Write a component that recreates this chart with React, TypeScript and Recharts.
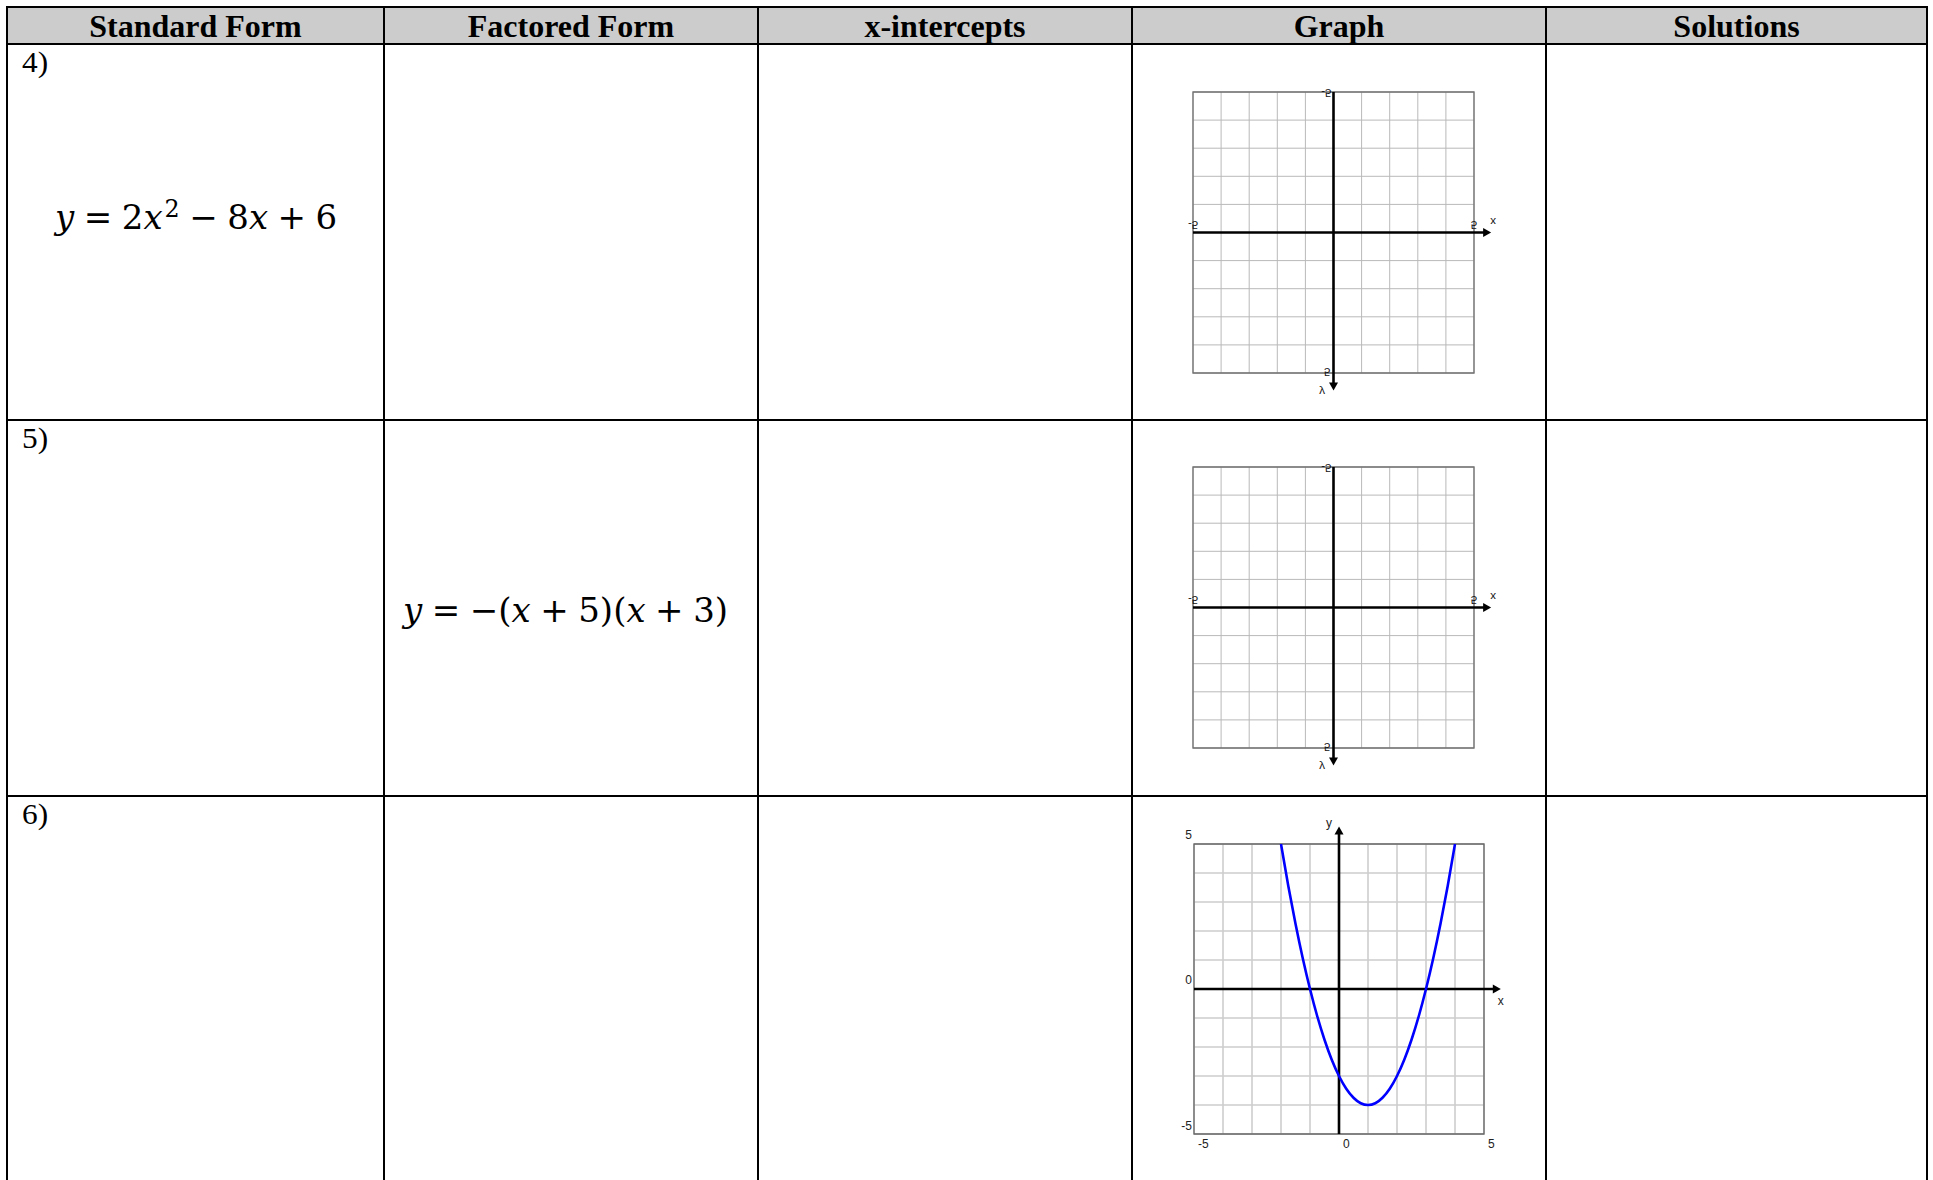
import React from 'react';
import {
  LineChart,
  Line,
  XAxis,
  YAxis,
  CartesianGrid,
  ReferenceLine,
  ReferenceDot,
  ReferenceArea,
} from 'recharts';

const headers = ['Standard Form', 'Factored Form', 'x-intercepts', 'Graph', 'Solutions'];
const rowNumbers = ['4)', '5)', '6)'];
const gridTicks = [-5, -4, -3, -2, -1, 0, 1, 2, 3, 4, 5];
const edgeLabels = ['-5', '0', '5'];

// row 6 parabola
const parabolaX = [-2, -1.75, -1.5, -1.25, -1, -0.75, -0.5, -0.25, 0, 0.25, 0.5, 0.75, 1, 1.25, 1.5, 1.75, 2, 2.25, 2.5, 2.75, 3, 3.25, 3.5, 3.75, 4];
const parabolaY = [5, 3.56, 2.25, 1.06, 0, -0.94, -1.75, -2.44, -3, -3.44, -3.75, -3.94, -4, -3.94, -3.75, -3.44, -3, -2.44, -1.75, -0.94, 0, 1.06, 2.25, 3.56, 5];

const COLS = [7, 384, 758, 1132, 1546, 1927];
const ROWS = [7, 44, 420, 796];
const M = 30;

const serif = '"Liberation Serif", "Times New Roman", serif';
const mathFont = '"DejaVu Serif", serif';
const sans = '"Liberation Sans", Arial, sans-serif';

const arrow = (dir: 'right' | 'down' | 'up') => (p: any) => {
  const { cx, cy } = p;
  const pts =
    dir === 'right'
      ? `${cx},${cy} ${cx - 8},${cy - 4.5} ${cx - 8},${cy + 4.5}`
      : dir === 'down'
        ? `${cx},${cy} ${cx - 4.5},${cy - 8} ${cx + 4.5},${cy - 8}`
        : `${cx},${cy} ${cx - 4.5},${cy + 8} ${cx + 4.5},${cy + 8}`;
  return <polygon points={pts} fill="#000" />;
};

const label =
  (text: string, dx: number, dy: number, anchor: string, flip: boolean, size: number) =>
  (p: any) =>
    flip ? (
      <text
        transform={`translate(${p.cx + dx},${p.cy + dy}) scale(1,-1)`}
        textAnchor={anchor}
        dominantBaseline="central"
        fontSize={size}
        fontFamily={sans}
        fill="#111"
      >
        {text}
      </text>
    ) : (
      <text x={p.cx + dx} y={p.cy + dy} textAnchor={anchor} fontSize={size} fontFamily={sans} fill="#222">
        {text}
      </text>
    );

const FlippedGrid = ({ left, top, size }: { left: number; top: number; size: number }) => (
  <div style={{ position: 'absolute', left: left - M, top: top - M }}>
    <LineChart
      width={size + 2 * M}
      height={size + 2 * M}
      data={gridTicks.map((x) => ({ x }))}
      margin={{ top: M, right: M, bottom: M, left: M }}
    >
      <XAxis dataKey="x" type="number" domain={[-5, 5]} ticks={gridTicks} hide allowDataOverflow />
      <YAxis type="number" domain={[-5, 5]} ticks={gridTicks} hide allowDataOverflow />
      <CartesianGrid stroke="#b9b9b9" strokeWidth={1} />
      <ReferenceArea x1={-5} x2={5} y1={-5} y2={5} fill="none" stroke="#707070" strokeWidth={1.3} />
      <ReferenceLine segment={[{ x: -5, y: 0 }, { x: 5.45, y: 0 }]} stroke="#000" strokeWidth={2.6} ifOverflow="visible" />
      <ReferenceLine segment={[{ x: 0, y: 5 }, { x: 0, y: -5.45 }]} stroke="#000" strokeWidth={2.6} ifOverflow="visible" />
      <ReferenceDot x={5.61} y={0} ifOverflow="visible" shape={arrow('right')} />
      <ReferenceDot x={0} y={-5.62} ifOverflow="visible" shape={arrow('down')} />
      <ReferenceDot x={0} y={5} ifOverflow="visible" shape={label(edgeLabels[0], -2, 1, 'end', true, 11.5)} />
      <ReferenceDot x={0} y={-5} ifOverflow="visible" shape={label(edgeLabels[2], -3, -1, 'end', true, 11.5)} />
      <ReferenceDot x={-5} y={0} ifOverflow="visible" shape={label(edgeLabels[0], 0, -8, 'middle', true, 11.5)} />
      <ReferenceDot x={5} y={0} ifOverflow="visible" shape={label(edgeLabels[2], 0, -8, 'middle', true, 11.5)} />
      <ReferenceDot x={5.61} y={0} ifOverflow="visible" shape={label('x', 2, -11, 'middle', true, 11.5)} />
      <ReferenceDot x={0} y={-5.62} ifOverflow="visible" shape={label('y', -11.5, 2, 'middle', true, 11.5)} />
    </LineChart>
  </div>
);

const ParabolaGrid = ({ left, top, size }: { left: number; top: number; size: number }) => (
  <div style={{ position: 'absolute', left: left - M, top: top - M }}>
    <LineChart
      width={size + 2 * M}
      height={size + 2 * M}
      data={parabolaX.map((x, i) => ({ x, y: parabolaY[i] }))}
      margin={{ top: M, right: M, bottom: M, left: M }}
    >
      <XAxis dataKey="x" type="number" domain={[-5, 5]} ticks={gridTicks} hide allowDataOverflow />
      <YAxis type="number" domain={[-5, 5]} ticks={gridTicks} hide allowDataOverflow />
      <CartesianGrid stroke="#cdcdcd" strokeWidth={1.6} />
      <ReferenceArea x1={-5} x2={5} y1={-5} y2={5} fill="none" stroke="#666" strokeWidth={1.3} />
      <ReferenceLine segment={[{ x: -5, y: 0 }, { x: 5.45, y: 0 }]} stroke="#000" strokeWidth={2.6} ifOverflow="visible" />
      <ReferenceLine segment={[{ x: 0, y: -5 }, { x: 0, y: 5.45 }]} stroke="#000" strokeWidth={2.6} ifOverflow="visible" />
      <ReferenceDot x={5.58} y={0} ifOverflow="visible" shape={arrow('right')} />
      <ReferenceDot x={0} y={5.6} ifOverflow="visible" shape={arrow('up')} />
      <ReferenceDot x={-5} y={5} ifOverflow="visible" shape={label(edgeLabels[2], -2, -5, 'end', false, 12)} />
      <ReferenceDot x={-5} y={0} ifOverflow="visible" shape={label(edgeLabels[1], -2, -5, 'end', false, 12)} />
      <ReferenceDot x={-5} y={-5} ifOverflow="visible" shape={label(edgeLabels[0], -2, -4, 'end', false, 12)} />
      <ReferenceDot x={-5} y={-5} ifOverflow="visible" shape={label(edgeLabels[0], 4, 14, 'start', false, 12)} />
      <ReferenceDot x={0} y={-5} ifOverflow="visible" shape={label(edgeLabels[1], 4, 14, 'start', false, 12)} />
      <ReferenceDot x={5} y={-5} ifOverflow="visible" shape={label(edgeLabels[2], 4, 14, 'start', false, 12)} />
      <ReferenceDot x={0} y={5.6} ifOverflow="visible" shape={label('y', -7, 0, 'end', false, 12)} />
      <ReferenceDot x={5.58} y={0} ifOverflow="visible" shape={label('x', 0, 16, 'middle', false, 12)} />
      <Line dataKey="y" type="monotone" stroke="#0000ff" strokeWidth={2.6} dot={false} isAnimationActive={false} />
    </LineChart>
  </div>
);

const op = (s: string) => <span style={{ margin: '0 0.28em' }}>{s}</span>;
const v = (s: string) => <span style={{ fontStyle: 'italic' }}>{s}</span>;

export default function App() {
  return (
    <div
      style={{
        position: 'absolute',
        left: 0,
        top: 0,
        width: 1933,
        height: 1180,
        overflow: 'hidden',
        background: '#fff',
        fontFamily: serif,
      }}
    >
      <div
        style={{
          position: 'absolute',
          left: COLS[0],
          top: ROWS[0],
          width: COLS[5] - COLS[0],
          height: ROWS[1] - ROWS[0],
          background: '#cccccc',
        }}
      />
      {headers.map((h, i) => (
        <div
          key={h}
          style={{
            position: 'absolute',
            left: COLS[i],
            width: COLS[i + 1] - COLS[i],
            top: ROWS[0],
            height: ROWS[1] - ROWS[0],
            lineHeight: `${ROWS[1] - ROWS[0] + 1}px`,
            textAlign: 'center',
            fontWeight: 'bold',
            fontSize: 32,
          }}
        >
          {h}
        </div>
      ))}
      {rowNumbers.map((r, i) => (
        <div
          key={r}
          style={{
            position: 'absolute',
            left: 22,
            top: ROWS[i + 1] + 4,
            fontSize: 29,
            lineHeight: '29px',
            transform: 'scaleX(1.08)',
            transformOrigin: 'left top',
          }}
        >
          {r}
        </div>
      ))}
      {ROWS.map((y) => (
        <div
          key={'h' + y}
          style={{ position: 'absolute', left: COLS[0] - 1, top: y - 1, width: COLS[5] - COLS[0] + 2, height: 2, background: '#000' }}
        />
      ))}
      {COLS.map((x) => (
        <div
          key={'v' + x}
          style={{ position: 'absolute', left: x - 1, top: ROWS[0] - 1, width: 2, height: 1180, background: '#000' }}
        />
      ))}
      <div
        style={{
          position: 'absolute',
          left: 55,
          top: 200,
          fontSize: 34,
          lineHeight: '34px',
          whiteSpace: 'nowrap',
          fontFamily: mathFont,
        }}
      >
        {v('y')}
        {op('=')}2{v('x')}
        <sup style={{ fontSize: '0.7em', verticalAlign: '0.5em', lineHeight: 0, marginLeft: 2 }}>2</sup>
        {op('−')}8{v('x')}
        {op('+')}6
      </div>
      <div
        style={{
          position: 'absolute',
          left: 403,
          top: 593,
          fontSize: 34,
          lineHeight: '34px',
          whiteSpace: 'nowrap',
          fontFamily: mathFont,
        }}
      >
        {v('y')}
        {op('=')}−({v('x')}
        {op('+')}5)({v('x')}
        {op('+')}3)
      </div>
      <FlippedGrid left={1193} top={92} size={281} />
      <FlippedGrid left={1193} top={467} size={281} />
      <ParabolaGrid left={1194} top={844} size={290} />
    </div>
  );
}
